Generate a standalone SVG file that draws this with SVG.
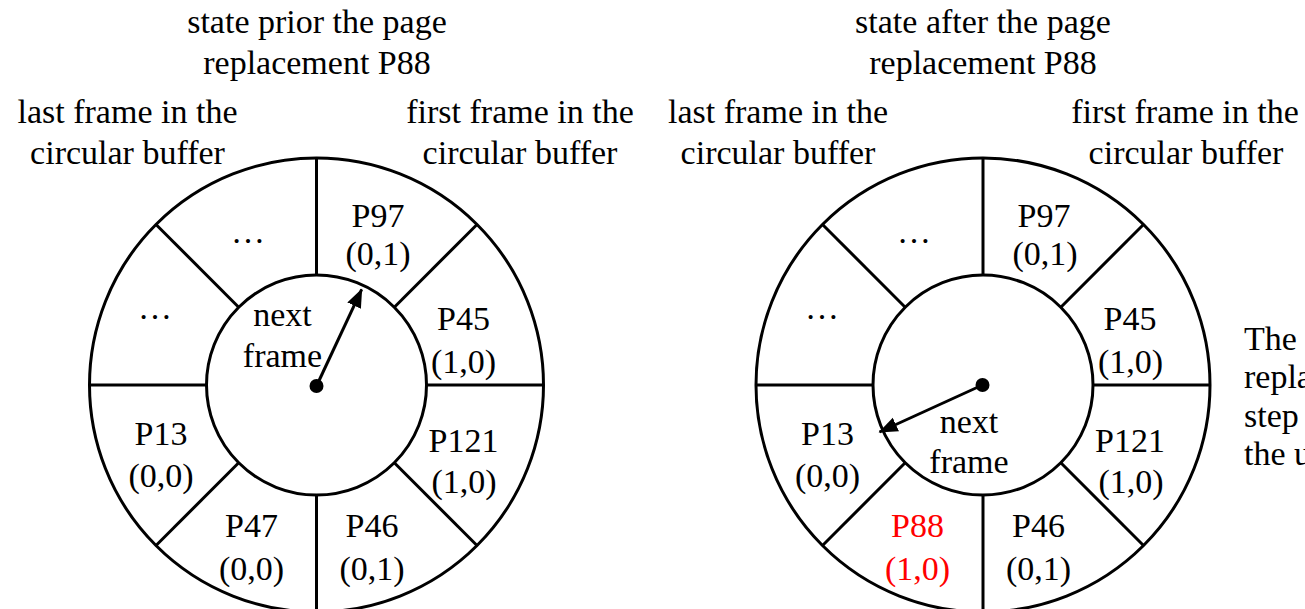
<svg xmlns="http://www.w3.org/2000/svg" width="1305" height="609" viewBox="0 0 1305 609">
  <style>
    text { font-family: "Liberation Serif", "Times New Roman", serif; font-size: 34px; fill: #000; text-anchor: middle; }
    .red { fill: #ff0000; }
    .ring { fill: none; stroke: #000; stroke-width: 3; }
    .arrow { stroke: #000; stroke-width: 3; fill: none; }
    .left { text-anchor: start; }
  </style>
  <defs>
    <marker id="head" markerUnits="userSpaceOnUse" markerWidth="20" markerHeight="16" refX="18" refY="7.5" orient="auto">
      <path d="M0,0 L19,7.5 L0,15 z" fill="#000"/>
    </marker>
    <!-- ring of eight frames, centred on the origin -->
    <g id="wheel">
      <circle class="ring" cx="0" cy="0" r="227"/>
      <circle class="ring" cx="0" cy="0" r="110"/>
      <line class="ring" x1="0" y1="-227" x2="0" y2="-110"/>
      <line class="ring" x1="0" y1="110" x2="0" y2="230"/>
      <line class="ring" x1="-227" y1="0" x2="-110" y2="0"/>
      <line class="ring" x1="110" y1="0" x2="227" y2="0"/>
      <line class="ring" x1="-160.5" y1="-160.5" x2="-77.8" y2="-77.8"/>
      <line class="ring" x1="160.5" y1="-160.5" x2="77.8" y2="-77.8"/>
      <line class="ring" x1="-160.5" y1="160.5" x2="-77.8" y2="77.8"/>
      <line class="ring" x1="160.5" y1="160.5" x2="77.8" y2="77.8"/>
    </g>
  </defs>

  <!-- before the replacement -->
  <g id="before">
    <g id="before-title">
      <text x="317" y="33">state prior the page</text>
      <text x="317" y="74">replacement P88</text>
    </g>
    <g id="before-last-label">
      <text x="127.5" y="123">last frame in the</text>
      <text x="127.5" y="164">circular buffer</text>
    </g>
    <g id="before-first-label">
      <text x="520" y="123">first frame in the</text>
      <text x="520" y="164">circular buffer</text>
    </g>
    <g id="before-ring"><use href="#wheel" x="316.5" y="385"/></g>
    <g id="before-dots-top"><text x="248" y="243">…</text></g>
    <g id="before-dots-left"><text x="155" y="319">…</text></g>
    <g id="before-p97"><text x="378" y="227">P97</text><text x="378" y="265">(0,1)</text></g>
    <g id="before-p45"><text x="463.5" y="330">P45</text><text x="463.5" y="373">(1,0)</text></g>
    <g id="before-p121"><text x="463.5" y="452">P121</text><text x="464" y="493">(1,0)</text></g>
    <g id="before-p46"><text x="372" y="537">P46</text><text x="372" y="580">(0,1)</text></g>
    <g id="before-p47"><text x="251.5" y="537">P47</text><text x="251.5" y="580">(0,0)</text></g>
    <g id="before-p13"><text x="161" y="445">P13</text><text x="161" y="487">(0,0)</text></g>
    <g id="before-pointer-label">
      <text x="282.5" y="326">next</text>
      <text x="282.5" y="367">frame</text>
    </g>
  </g>

  <!-- after the replacement -->
  <g id="after">
    <g id="after-title">
      <text x="983" y="33">state after the page</text>
      <text x="983" y="74">replacement P88</text>
    </g>
    <g id="after-last-label">
      <text x="778" y="123">last frame in the</text>
      <text x="778" y="164">circular buffer</text>
    </g>
    <g id="after-first-label">
      <text x="1185" y="123">first frame in the</text>
      <text x="1186" y="164">circular buffer</text>
    </g>
    <g id="after-ring"><use href="#wheel" x="983" y="385"/></g>
    <g id="after-dots-top"><text x="914" y="243">…</text></g>
    <g id="after-dots-left"><text x="822" y="319">…</text></g>
    <g id="after-p97"><text x="1044" y="227">P97</text><text x="1045" y="265">(0,1)</text></g>
    <g id="after-p45"><text x="1130" y="330">P45</text><text x="1130.5" y="373">(1,0)</text></g>
    <g id="after-p121"><text x="1130" y="452">P121</text><text x="1131" y="493">(1,0)</text></g>
    <g id="after-p46"><text x="1038.5" y="537">P46</text><text x="1038.5" y="580">(0,1)</text></g>
    <g id="after-p88"><text class="red" x="917.5" y="537">P88</text><text class="red" x="917.5" y="580">(1,0)</text></g>
    <g id="after-p13"><text x="827.5" y="445">P13</text><text x="827.5" y="487">(0,0)</text></g>
    <g id="after-pointer-label">
      <text x="969" y="433">next</text>
      <text x="969" y="473">frame</text>
    </g>
    <!-- side note, running off the right edge -->
    <g id="note">
      <text class="left" x="1244" y="350">The</text>
      <text class="left" x="1244" y="388">repla</text>
      <text class="left" x="1244" y="427">step</text>
      <text class="left" x="1244" y="465">the u</text>
    </g>
  </g>

  <!-- next-frame pointers -->
  <g id="connectors">
    <circle cx="316.5" cy="386" r="7" fill="#000"/>
    <line class="arrow" x1="316.5" y1="386" x2="361.7" y2="289.3" marker-end="url(#head)"/>
    <circle cx="982.5" cy="385" r="7" fill="#000"/>
    <line class="arrow" x1="982.5" y1="385" x2="879.5" y2="432" marker-end="url(#head)"/>
  </g>
</svg>
